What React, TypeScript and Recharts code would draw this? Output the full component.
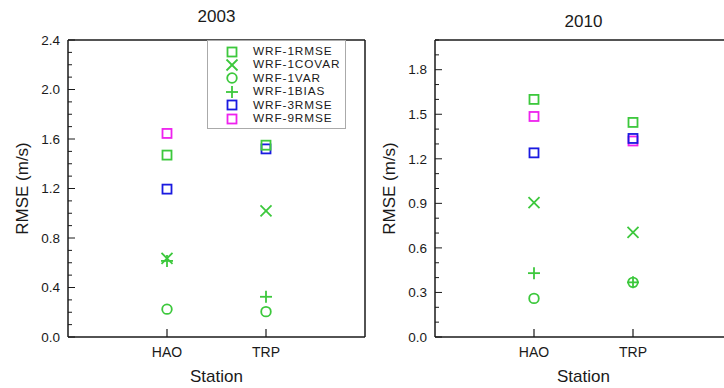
import { ScatterChart, Scatter, XAxis, YAxis } from "recharts";

const stations = ["HAO", "TRP"];
const seriesNames = [
  "WRF-1RMSE",
  "WRF-1COVAR",
  "WRF-1VAR",
  "WRF-1BIAS",
  "WRF-3RMSE",
  "WRF-9RMSE",
];

// 2003, values per station (HAO, TRP)
const rmse1_2003 = [1.47, 1.55];
const covar1_2003 = [0.635, 1.02];
const var1_2003 = [0.225, 0.205];
const bias1_2003 = [0.615, 0.325];
const rmse3_2003 = [1.195, 1.52];
const rmse9_2003 = [1.645, null];

// 2010
const rmse1_2010 = [1.6, 1.445];
const covar1_2010 = [0.905, 0.705];
const var1_2010 = [0.26, 0.368];
const bias1_2010 = [0.43, 0.368];
const rmse3_2010 = [1.24, 1.337];
const rmse9_2010 = [1.485, 1.32];

const yTicks2003 = [0, 0.4, 0.8, 1.2, 1.6, 2.0, 2.4];
const yTicks2010 = [0, 0.3, 0.6, 0.9, 1.2, 1.5, 1.8];

const GREEN = "#3cc83c";
const BLUE = "#1a1ae0";
const MAGENTA = "#ee22ee";
const INK = "#1a1a1a";
const FONT = "'Liberation Sans', Arial, Helvetica, sans-serif";

const markers = [
  { kind: "square", color: GREEN },
  { kind: "x", color: GREEN },
  { kind: "circle", color: GREEN },
  { kind: "plus", color: GREEN },
  { kind: "square", color: BLUE },
  { kind: "square", color: MAGENTA },
];
// paint order: magenta below blue, greens on top
const drawOrder = [5, 4, 0, 1, 2, 3];

function Glyph({ kind, color, cx, cy }: any) {
  const sw = 1.8;
  if (kind === "square")
    return <rect x={cx - 4.5} y={cy - 4.5} width={9} height={9} fill="none" stroke={color} strokeWidth={sw} />;
  if (kind === "circle")
    return <circle cx={cx} cy={cy} r={4.8} fill="none" stroke={color} strokeWidth={sw} />;
  if (kind === "x")
    return (
      <g stroke={color} strokeWidth={sw}>
        <line x1={cx - 5.5} y1={cy - 5.5} x2={cx + 5.5} y2={cy + 5.5} />
        <line x1={cx - 5.5} y1={cy + 5.5} x2={cx + 5.5} y2={cy - 5.5} />
      </g>
    );
  return (
    <g stroke={color} strokeWidth={sw}>
      <line x1={cx - 6} y1={cy} x2={cx + 6} y2={cy} />
      <line x1={cx} y1={cy - 6} x2={cx} y2={cy + 6} />
    </g>
  );
}

const isMajor = (v: number, majors: number[]) => majors.some((m) => Math.abs(m - v) < 1e-6);

function LeftTick({ x, y, payload, majors }: any) {
  const major = isMajor(payload.value, majors);
  return (
    <g>
      <line x1={x + 8} y1={y} x2={x + 8 + (major ? 7 : 4)} y2={y} stroke={INK} strokeWidth={1} />
      {major && (
        <text x={x} y={y} dy="0.35em" textAnchor="end" fontSize={13.5} fill={INK} fontFamily={FONT}>
          {payload.value.toFixed(1)}
        </text>
      )}
    </g>
  );
}

function RightTick({ x, y, payload, majors }: any) {
  const major = isMajor(payload.value, majors);
  return <line x1={x} y1={y} x2={x - (major ? 7 : 4)} y2={y} stroke={INK} strokeWidth={1} />;
}

function BottomTick({ x, y, payload }: any) {
  return (
    <g>
      <line x1={x} y1={y} x2={x} y2={y - 8} stroke={INK} strokeWidth={1.2} />
      <text x={x} y={y + 15} dy="0.35em" textAnchor="middle" fontSize={14} fill={INK} fontFamily={FONT}>
        {stations[payload.value - 1]}
      </text>
    </g>
  );
}

function TopTick({ x, y }: any) {
  return <line x1={x} y1={y} x2={x} y2={y + 8} stroke={INK} strokeWidth={1.2} />;
}

function Panel({ values, yMax, majors, axisWidth, labelOffset }: any) {
  const minor: number[] = [];
  for (let i = 0; i <= Math.round(yMax * 10); i++) minor.push(i / 10);
  const pts = (vals: (number | null)[]) =>
    vals.map((v, i) => (v == null ? null : { x: i + 1, y: v })).filter(Boolean);
  const axisLine = { stroke: INK, strokeWidth: 1.5 };
  return (
    <ScatterChart width={axisWidth + 297 + 15} height={388} margin={{ top: 30, right: 0, bottom: 0, left: 0 }}>
      <XAxis
        xAxisId="b"
        type="number"
        dataKey="x"
        domain={[0, 3]}
        ticks={[1, 2]}
        interval={0}
        height={51}
        tickLine={false}
        tickSize={0}
        tickMargin={0}
        tick={BottomTick}
        axisLine={axisLine}
        label={{ value: "Station", position: "insideBottom", offset: 6, fontSize: 17, fill: INK, fontFamily: FONT }}
      />
      <XAxis
        xAxisId="t"
        orientation="top"
        type="number"
        domain={[0, 3]}
        ticks={[1, 2]}
        interval={0}
        height={10}
        tickLine={false}
        tickSize={0}
        tickMargin={0}
        tick={TopTick}
        axisLine={axisLine}
      />
      <YAxis
        yAxisId="l"
        type="number"
        dataKey="y"
        domain={[0, yMax]}
        ticks={minor}
        interval={0}
        width={axisWidth}
        tickLine={false}
        tickSize={0}
        tickMargin={8}
        tick={(p: any) => <LeftTick {...p} majors={majors} />}
        axisLine={axisLine}
        label={{
          value: "RMSE (m/s)",
          angle: -90,
          position: "insideLeft",
          offset: labelOffset,
          fontSize: 17,
          fill: INK,
          fontFamily: FONT,
          style: { textAnchor: "middle" },
        }}
      />
      <YAxis
        yAxisId="r"
        orientation="right"
        type="number"
        domain={[0, yMax]}
        ticks={minor}
        interval={0}
        width={15}
        tickLine={false}
        tickSize={0}
        tickMargin={0}
        tick={(p: any) => <RightTick {...p} majors={majors} />}
        axisLine={axisLine}
      />
      {drawOrder.map((i) => (
        <Scatter
          key={seriesNames[i]}
          name={seriesNames[i]}
          xAxisId="b"
          yAxisId="l"
          data={pts(values[i])}
          shape={(p: any) => <Glyph kind={markers[i].kind} color={markers[i].color} cx={p.cx} cy={p.cy} />}
          isAnimationActive={false}
        />
      ))}
    </ScatterChart>
  );
}

function LegendBox() {
  return (
    <div
      style={{
        position: "absolute",
        left: 207,
        top: 40,
        width: 139,
        height: 89,
        border: "1px solid #aaa",
        background: "#fff",
        paddingTop: 4,
        boxSizing: "border-box",
        fontFamily: FONT,
        fontSize: 11.8,
        letterSpacing: 0.9,
        color: INK,
      }}
    >
      {seriesNames.map((n, i) => (
        <div key={n} style={{ display: "flex", alignItems: "center", height: 13.4, lineHeight: "13.4px" }}>
          <svg width={45} height={14} style={{ flex: "none" }}>
            <Glyph kind={markers[i].kind} color={markers[i].color} cx={24} cy={7} />
          </svg>
          <span style={{ whiteSpace: "nowrap" }}>{n}</span>
        </div>
      ))}
    </div>
  );
}

export default function App() {
  const v2003 = [rmse1_2003, covar1_2003, var1_2003, bias1_2003, rmse3_2003, rmse9_2003];
  const v2010 = [rmse1_2010, covar1_2010, var1_2010, bias1_2010, rmse3_2010, rmse9_2010];
  const title = { position: "absolute" as const, fontFamily: FONT, fontSize: 17, color: INK, textAlign: "center" as const, lineHeight: "20px" };
  return (
    <div style={{ position: "absolute", left: 0, top: 0, width: 724, height: 388, overflow: "hidden", background: "#fff" }}>
      <div style={{ position: "absolute", left: 0, top: 0 }}>
        <Panel values={v2003} yMax={2.4} majors={yTicks2003} axisWidth={68} labelOffset={22} />
      </div>
      <div style={{ position: "absolute", left: 362, top: 0 }}>
        <Panel values={v2010} yMax={2.0} majors={yTicks2010} axisWidth={73} labelOffset={27} />
      </div>
      <div style={{ ...title, left: 0, width: 433, top: 7 }}>2003</div>
      <div style={{ ...title, left: 362, width: 443, top: 12 }}>2010</div>
      <LegendBox />
    </div>
  );
}
